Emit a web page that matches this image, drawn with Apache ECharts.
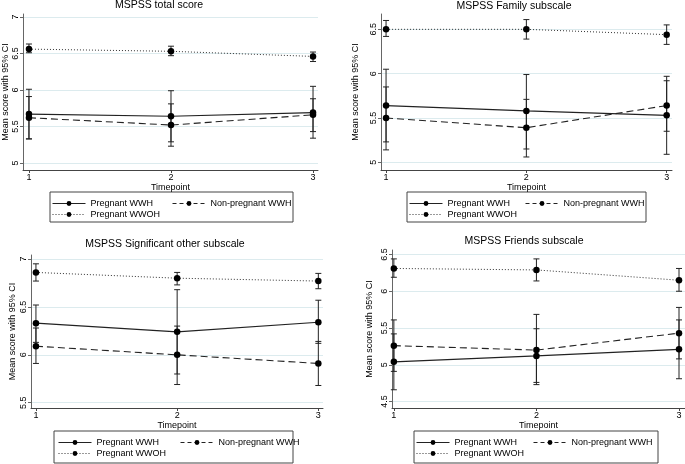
<!DOCTYPE html>
<html>
<head>
<meta charset="utf-8">
<script src="https://cdn.jsdelivr.net/npm/echarts@6/dist/echarts.min.js"></script>
<style>
html,body{margin:0;padding:0;background:#fff;}
#c{width:685px;height:464px;}
</style>
</head>
<body>
<div id="c"></div>
<script>
// ---------- data ----------
const timepoints = [1, 2, 3];
const seriesNames = ['Pregnant WWH', 'Non-pregnant WWH', 'Pregnant WWOH'];
const panelTitles = ['MSPSS total score', 'MSPSS Family subscale', 'MSPSS Significant other subscale', 'MSPSS Friends subscale'];
const xTitle = 'Timepoint';
const yTitle = 'Mean score with 95% CI';

// MSPSS total score
const totalWWH = [5.67, 5.64, 5.69];
const totalWWHLo = [5.33, 5.29, 5.34];
const totalWWHHi = [6.01, 5.99, 6.05];
const totalNonPreg = [5.62, 5.52, 5.66];
const totalNonPregLo = [5.33, 5.23, 5.43];
const totalNonPregHi = [5.91, 5.81, 5.88];
const totalWWOH = [6.56, 6.53, 6.46];
const totalWWOHLo = [6.51, 6.47, 6.39];
const totalWWOHHi = [6.63, 6.60, 6.52];

// Family subscale
const famWWH = [5.64, 5.58, 5.53];
const famWWHLo = [5.14, 5.15, 5.09];
const famWWHHi = [6.05, 5.99, 5.97];
const famNonPreg = [5.50, 5.39, 5.64];
const famNonPregLo = [5.23, 5.06, 5.35];
const famNonPregHi = [5.85, 5.71, 5.92];
const famWWOH = [6.50, 6.50, 6.44];
const famWWOHLo = [6.42, 6.39, 6.33];
const famWWOHHi = [6.60, 6.61, 6.55];

// Significant other subscale
const soWWH = [6.33, 6.24, 6.34];
const soWWHLo = [6.13, 5.80, 6.12];
const soWWHHi = [6.52, 6.68, 6.57];
const soNonPreg = [6.09, 6.00, 5.91];
const soNonPregLo = [5.91, 5.69, 5.68];
const soNonPregHi = [6.28, 6.30, 6.14];
const soWWOH = [6.86, 6.80, 6.77];
const soWWOHLo = [6.77, 6.73, 6.69];
const soWWOHHi = [6.95, 6.86, 6.85];

// Friends subscale
const frWWH = [5.04, 5.12, 5.21];
const frWWHLo = [4.66, 4.76, 4.81];
const frWWHHi = [5.42, 5.49, 5.61];
const frNonPreg = [5.26, 5.20, 5.43];
const frNonPregLo = [4.91, 4.73, 5.08];
const frNonPregHi = [5.61, 5.685, 5.78];
const frWWOH = [6.31, 6.29, 6.15];
const frWWOHLo = [6.19, 6.14, 6.00];
const frWWOHHi = [6.44, 6.44, 6.31];

// tick labels
const xTicks = [1, 2, 3];
const yTicksTotal = [5, 5.5, 6, 6.5, 7];
const yTicksFamily = [5, 5.5, 6, 6.5];
const yTicksSO = [5.5, 6, 6.5, 7];
const yTicksFriends = [4.5, 5, 5.5, 6, 6.5];

// ---------- layout ----------
const FONT = 'Liberation Sans, Arial, sans-serif';
const panels = [
  {grid:{left:23, top:14, width:295, height:156}, x:[0.958,3.035], y:[4.904,7.041], yTicks:yTicksTotal, nameGap:13,
   title:{x:159, y:0},
   means:[totalWWH,totalNonPreg,totalWWOH], lo:[totalWWHLo,totalNonPregLo,totalWWOHLo], hi:[totalWWHHi,totalNonPregHi,totalWWOHHi],
   box:{x:50, y:192, w:243, h:30}, items:[[52,199],[172,199],[52,210]]},
  {grid:{left:381, top:14, width:291, height:156}, x:[0.964,3.038], y:[4.913,6.673], yTicks:yTicksFamily, nameGap:21,
   title:{x:514, y:1},
   means:[famWWH,famNonPreg,famWWOH], lo:[famWWHLo,famNonPregLo,famWWOHLo], hi:[famWWHHi,famNonPregHi,famWWOHHi],
   box:{x:407, y:192, w:239, h:30}, items:[[409,199],[525,199],[409,210]]},
  {grid:{left:31, top:255, width:292, height:153}, x:[0.965,3.033], y:[5.445,7.042], yTicks:yTicksSO, nameGap:14,
   title:{x:165, y:239},
   means:[soWWH,soNonPreg,soWWOH], lo:[soWWHLo,soNonPregLo,soWWOHLo], hi:[soWWHHi,soNonPregHi,soWWOHHi],
   box:{x:54, y:431, w:239, h:32}, items:[[58,438],[180,438],[58,449]]},
  {grid:{left:392, top:250, width:293, height:158}, x:[0.987,3.042], y:[4.412,6.561], yTicks:yTicksFriends, nameGap:18,
   title:{x:524, y:236},
   means:[frWWH,frNonPreg,frWWOH], lo:[frWWHLo,frNonPregLo,frWWOHLo], hi:[frWWHHi,frNonPregHi,frWWOHHi],
   box:{x:414, y:431, w:244, h:32}, items:[[416,438],[533,438],[416,449]]}
];

const lineStyles = [
  {color:'#222222', width:1.2, type:'solid'},
  {color:'#222222', width:1.1, type:[7,4]},
  {color:'#333333', width:1, type:[1,2]}
];
const legendLineTypes = ['solid', [4,3], [1,2]];

const grids = [], xAxes = [], yAxes = [], series = [], legends = [], graphics = [];

panels.forEach((p, i) => {
  grids.push(Object.assign({containLabel:false}, p.grid));
  xAxes.push({
    type:'value', gridIndex:i, min:p.x[0], max:p.x[1],
    name:xTitle, nameLocation:'middle', nameGap:11,
    nameTextStyle:{fontFamily:FONT, fontSize:9, color:'#000'},
    axisLine:{show:true, lineStyle:{color:'#444', width:1}},
    axisTick:{show:true, length:3, customValues:xTicks, lineStyle:{color:'#444'}},
    axisLabel:{customValues:xTicks, margin:3, fontFamily:FONT, fontSize:9, color:'#000'},
    splitLine:{show:false}
  });
  yAxes.push({
    type:'value', gridIndex:i, min:p.y[0], max:p.y[1],
    name:yTitle, nameLocation:'middle', nameGap:p.nameGap,
    nameTextStyle:{fontFamily:FONT, fontSize:9, color:'#000'},
    axisLine:{show:true, lineStyle:{color:'#666', width:1}},
    axisTick:{show:true, length:3, customValues:p.yTicks, lineStyle:{color:'#666'}},
    axisLabel:{customValues:p.yTicks, rotate:90, margin:3, fontFamily:FONT, fontSize:9, color:'#000'},
    splitLine:{show:true, lineStyle:{color:'#dcebee', width:1}}
  });
  // error bars
  for (let s = 0; s < 3; s++) {
    series.push({
      type:'custom', name:'ci', xAxisIndex:i, yAxisIndex:i, z:2, silent:true,
      data: timepoints.map((t, j) => [t, p.lo[s][j], p.hi[s][j]]),
      encode:{x:0, y:[1,2]},
      renderItem:(params, api) => {
        const x = api.value(0);
        const a = api.coord([x, api.value(1)]);
        const b = api.coord([x, api.value(2)]);
        const cw = 3;
        const st = {stroke:'#222', lineWidth:1};
        return {type:'group', children:[
          {type:'line', shape:{x1:a[0], y1:a[1], x2:b[0], y2:b[1]}, style:st},
          {type:'line', shape:{x1:a[0]-cw, y1:a[1], x2:a[0]+cw, y2:a[1]}, style:st},
          {type:'line', shape:{x1:b[0]-cw, y1:b[1], x2:b[0]+cw, y2:b[1]}, style:st}
        ]};
      }
    });
  }
  // mean lines
  for (let s = 0; s < 3; s++) {
    series.push({
      type:'line', name:seriesNames[s], xAxisIndex:i, yAxisIndex:i, z:3,
      data: timepoints.map((t, j) => [t, p.means[s][j]]),
      symbol:'circle', symbolSize:6.5, showSymbol:true,
      itemStyle:{color:'#000'},
      lineStyle:lineStyles[s],
      animation:false
    });
  }
  // legend items
  for (let s = 0; s < 3; s++) {
    legends.push({
      data:[seriesNames[s]], left:p.items[s][0], top:p.items[s][1], padding:0,
      itemWidth:33, itemHeight:6, itemGap:5, selectedMode:false,
      lineStyle:{width:1, type:legendLineTypes[s]},
      textStyle:{fontFamily:FONT, fontSize:9, color:'#000', padding:[0,0,0,0]}
    });
  }
  graphics.push({
    type:'rect', shape:{x:p.box.x, y:p.box.y, width:p.box.w, height:p.box.h},
    style:{fill:'none', stroke:'#444', lineWidth:1}, silent:true
  });
  graphics.push({
    type:'text', x:p.title.x, y:p.title.y,
    style:{text:panelTitles[i], fontFamily:FONT, fontSize:10.5, fill:'#000', textAlign:'center', textVerticalAlign:'top'}
  });
});

const chart = echarts.init(document.getElementById('c'), null, {renderer:'canvas'});
chart.setOption({
  animation:false,
  backgroundColor:'#fff',
  grid:grids, xAxis:xAxes, yAxis:yAxes,
  legend:legends,
  graphic:graphics,
  series:series
});
</script>
</body>
</html>
